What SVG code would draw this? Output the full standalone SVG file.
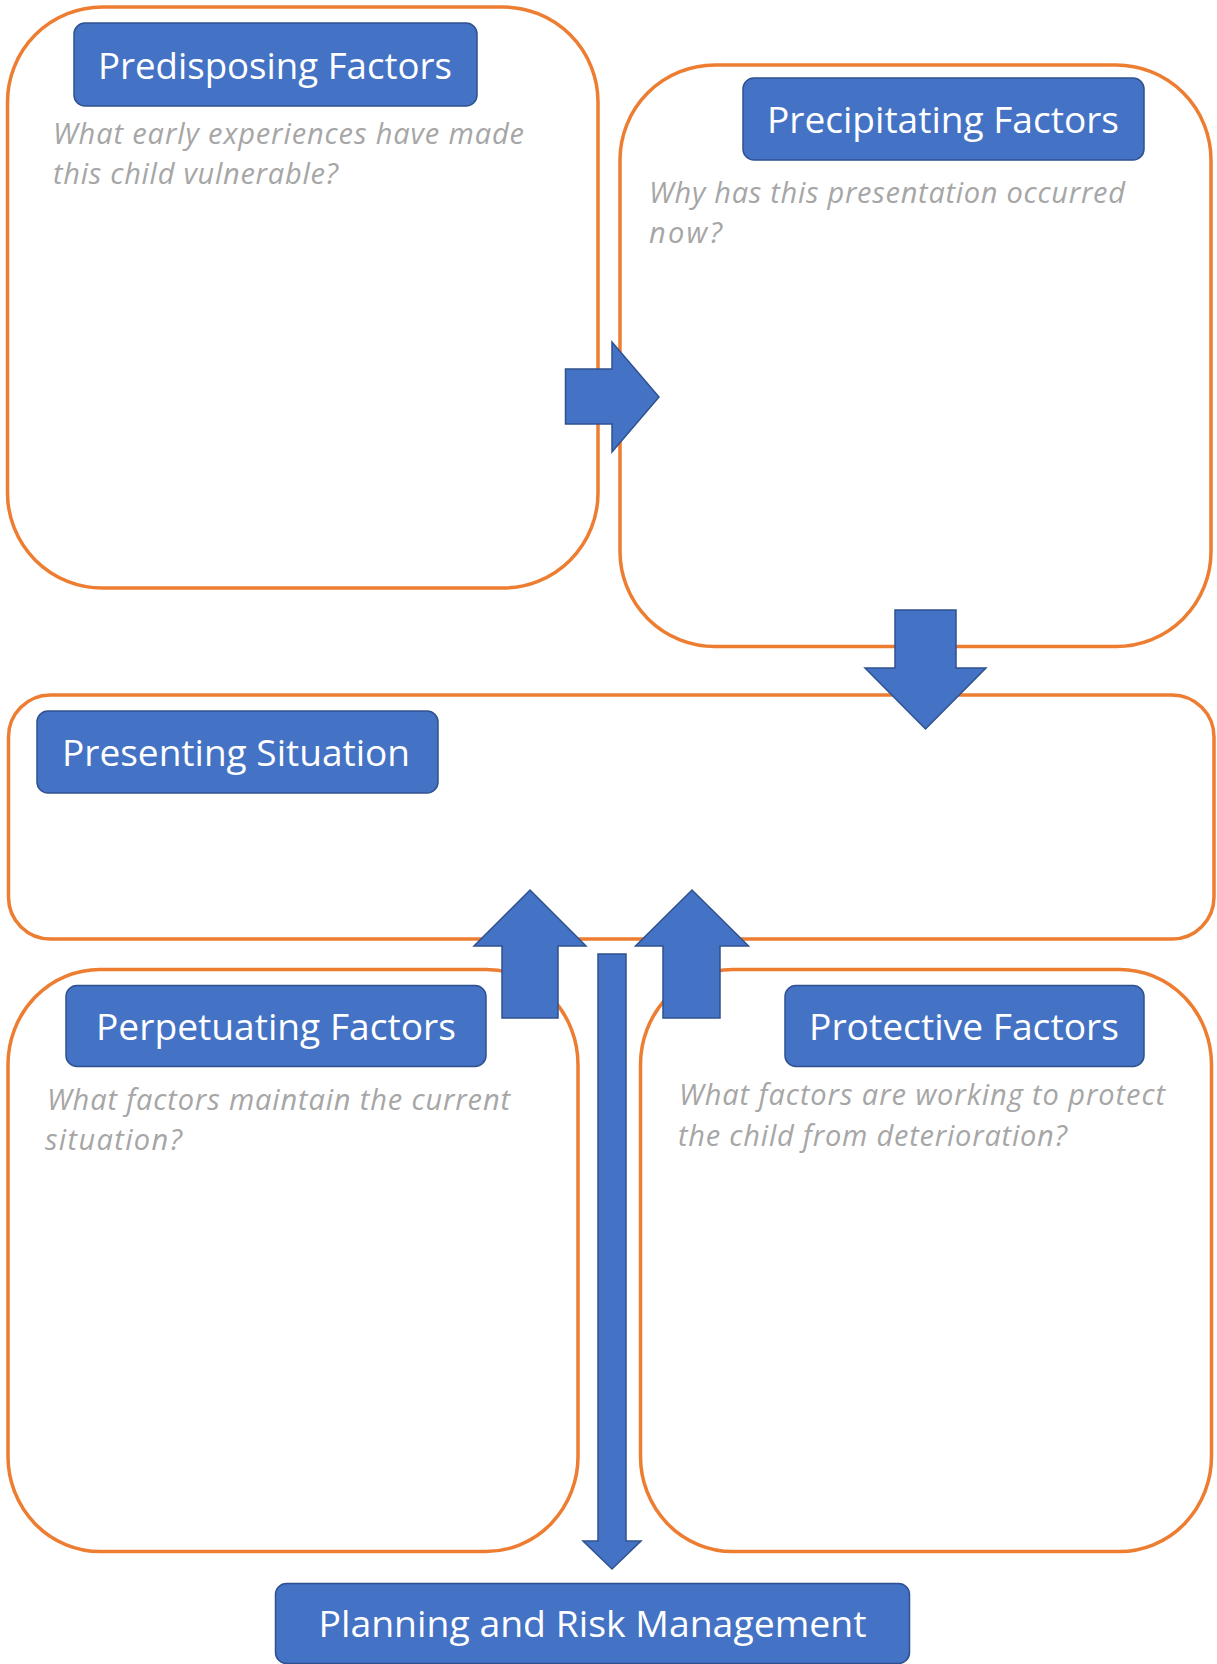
<svg xmlns="http://www.w3.org/2000/svg" width="1217" height="1664" viewBox="0 0 1217 1664">
  <style>
    .frame { fill: #FFFFFF; stroke: #ED7D31; stroke-width: 3.5; }
    .label { fill: #4472C4; stroke: #2F528F; stroke-width: 1.5; }
    .ltext { fill: #FFFFFF; font-family: "Open Sans", "Liberation Sans", sans-serif; font-size: 37px; }
    .q { fill: #A6A6A6; font-family: "Open Sans", "Liberation Sans", sans-serif; font-size: 29px; font-style: italic; }
    .arrow { fill: #4472C4; stroke: #2F528F; stroke-width: 1.5; stroke-linejoin: miter; }
  </style>
  <rect width="1217" height="1664" fill="#FFFFFF"/>

  <g id="predisposing">
    <rect class="frame" x="7.5" y="7" width="590.5" height="581" rx="95" ry="95"/>
    <rect class="label" x="74" y="23" width="403" height="83" rx="11" ry="11"/>
    <text class="ltext" x="98" y="79" textLength="354" lengthAdjust="spacingAndGlyphs">Predisposing Factors</text>
    <text class="q" x="53" y="144" textLength="471">What early experiences have made</text>
    <text class="q" x="53" y="184" textLength="285">this child vulnerable?</text>
  </g>

  <g id="precipitating">
    <rect class="frame" x="620" y="65" width="591" height="581.5" rx="95" ry="95"/>
    <rect class="label" x="743" y="78" width="401" height="82" rx="11" ry="11"/>
    <text class="ltext" x="767" y="133" textLength="352" lengthAdjust="spacingAndGlyphs">Precipitating Factors</text>
    <text class="q" x="649" y="203" textLength="476">Why has this presentation occurred</text>
    <text class="q" x="649" y="243" textLength="73">now?</text>
  </g>

  <g id="presenting">
    <rect class="frame" x="8.5" y="695" width="1205.5" height="244" rx="42" ry="42"/>
    <rect class="label" x="37" y="711" width="401" height="82" rx="11" ry="11"/>
    <text class="ltext" x="62" y="766" textLength="348" lengthAdjust="spacingAndGlyphs">Presenting Situation</text>
  </g>

  <g id="perpetuating">
    <rect class="frame" x="8" y="969.5" width="570" height="582" rx="92" ry="95"/>
    <rect class="label" x="66" y="985.5" width="420" height="81" rx="11" ry="11"/>
    <text class="ltext" x="96" y="1040" textLength="360" lengthAdjust="spacingAndGlyphs">Perpetuating Factors</text>
    <text class="q" x="47" y="1110" textLength="463">What factors maintain the current</text>
    <text class="q" x="45" y="1150" textLength="137">situation?</text>
  </g>

  <g id="protective">
    <rect class="frame" x="640.5" y="969.5" width="571" height="582" rx="92" ry="95"/>
    <rect class="label" x="785" y="985.5" width="359" height="81" rx="11" ry="11"/>
    <text class="ltext" x="809" y="1040" textLength="310" lengthAdjust="spacingAndGlyphs">Protective Factors</text>
    <text class="q" x="679" y="1105" textLength="486">What factors are working to protect</text>
    <text class="q" x="678" y="1146" textLength="389">the child from deterioration?</text>
  </g>

  <g id="planning">
    <rect class="label" x="275.5" y="1583.5" width="634" height="80" rx="11" ry="11"/>
    <text class="ltext" x="318.5" y="1637" textLength="548" lengthAdjust="spacingAndGlyphs">Planning and Risk Management</text>
  </g>

  <g id="connectors">
    <polygon class="arrow" points="565.5,369 612,369 612,342 659,397 612,452 612,424 565.5,424"/>
    <polygon class="arrow" points="895,610 956,610 956,668 986,668 925.5,729 865,668 895,668"/>
    <polygon class="arrow" points="502,1018 502,946 474,946 530,890 586,946 558,946 558,1018"/>
    <polygon class="arrow" points="663,1018 663,946 635.5,946 692,890 748.5,946 720,946 720,1018"/>
    <polygon class="arrow" points="598,954 626,954 626,1541 641,1541 612,1569 583,1541 598,1541"/>
  </g>
</svg>
